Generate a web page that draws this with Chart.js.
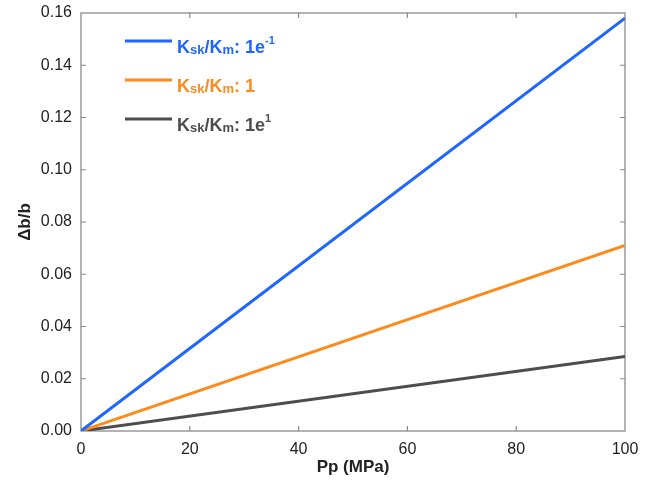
<!DOCTYPE html>
<html>
<head>
<meta charset="utf-8">
<script src="https://cdn.jsdelivr.net/npm/chart.js@4"></script>
<style>
  html, body { margin: 0; padding: 0; background: #fff; }
  #wrap { width: 651px; height: 490px; }
</style>
</head>
<body>
<div id="wrap"><canvas id="chart" width="651" height="490"></canvas></div>
<script>
// Pp (MPa) values
const pressure = [0, 100];
// Δb/b for each Ksk/Km ratio
const ratioLow = [0, 0.158];   // Ksk/Km: 1e-1
const ratioOne = [0, 0.071];   // Ksk/Km: 1
const ratioHigh = [0, 0.0285]; // Ksk/Km: 1e1
// legend ratio text, base and exponent
const ratioBase = ["1e", "1", "1e"];
const ratioExp = ["-1", "", "1"];
const seriesColors = ["#1f66ff", "#ff8a1c", "#4d4d4d"];
const xTicks = [0, 20, 40, 60, 80, 100];
const yTicks = [0, 0.02, 0.04, 0.06, 0.08, 0.1, 0.12, 0.14, 0.16];

function toPoints(ys) {
  return pressure.map((x, i) => ({ x: x, y: ys[i] }));
}

const datasets = [ratioLow, ratioOne, ratioHigh].map((ys, i) => ({
  label: "Ksk/Km: " + ratioBase[i] + ratioExp[i],
  data: toPoints(ys),
  borderColor: seriesColors[i],
  borderWidth: 3,
  pointRadius: 0,
  fill: false,
  tension: 0,
}));

// frame box with inward ticks
const framePlugin = {
  id: "frame",
  beforeDatasetsDraw(chart) {
    const { ctx, chartArea: a, scales } = chart;
    ctx.save();
    ctx.strokeStyle = "#9a9a9a";
    ctx.lineWidth = 1.5;
    ctx.strokeRect(a.left, a.top, a.right - a.left, a.bottom - a.top);
    ctx.lineWidth = 1.2;
    ctx.strokeStyle = "#8a8a8a";
    const len = 5;
    xTicks.slice(1, -1).forEach((v) => {
      const px = scales.x.getPixelForValue(v);
      ctx.beginPath();
      ctx.moveTo(px, a.bottom);
      ctx.lineTo(px, a.bottom - len);
      ctx.moveTo(px, a.top);
      ctx.lineTo(px, a.top + len);
      ctx.stroke();
    });
    yTicks.slice(1, -1).forEach((v) => {
      const py = scales.y.getPixelForValue(v);
      ctx.beginPath();
      ctx.moveTo(a.left, py);
      ctx.lineTo(a.left + len, py);
      ctx.moveTo(a.right, py);
      ctx.lineTo(a.right - len, py);
      ctx.stroke();
    });
    ctx.restore();
  },
};

// legend with subscripts and superscripts
const legendPlugin = {
  id: "subLegend",
  afterDraw(chart) {
    const ctx = chart.ctx;
    const big = "bold 18px 'Liberation Sans', Arial, sans-serif";
    const small = "bold 13px 'Liberation Sans', Arial, sans-serif";
    const sup = "bold 11px 'Liberation Sans', Arial, sans-serif";
    const rows = [41, 80, 119];
    ctx.save();
    rows.forEach((ly, i) => {
      const color = seriesColors[i];
      ctx.strokeStyle = color;
      ctx.lineWidth = 3;
      ctx.beginPath();
      ctx.moveTo(125, ly);
      ctx.lineTo(172, ly);
      ctx.stroke();

      ctx.fillStyle = color;
      ctx.textBaseline = "alphabetic";
      ctx.textAlign = "left";
      const base = ly + 12;
      const parts = [
        ["K", big, 0],
        ["sk", small, 1],
        ["/K", big, 0],
        ["m", small, 1],
        [": " + ratioBase[i], big, 0],
        [ratioExp[i], sup, -9],
      ];
      let x = 177;
      parts.forEach(([t, f, dy]) => {
        if (!t) return;
        ctx.font = f;
        ctx.fillText(t, x, base + dy);
        x += ctx.measureText(t).width;
      });
    });
    ctx.restore();
  },
};

new Chart(document.getElementById("chart").getContext("2d"), {
  type: "line",
  data: { datasets: datasets },
  plugins: [framePlugin, legendPlugin],
  options: {
    responsive: false,
    animation: false,
    layout: { padding: { top: 13, right: 26, left: 15, bottom: 12 } },
    plugins: { legend: { display: false }, tooltip: { enabled: false } },
    scales: {
      x: {
        type: "linear",
        min: 0,
        max: 100,
        afterBuildTicks: (s) => { s.ticks = xTicks.map((v) => ({ value: v })); },
        afterFit: (s) => { s.height = 47; },
        grid: { display: false, drawTicks: false },
        border: { display: false },
        ticks: {
          color: "#222",
          padding: 9,
          maxRotation: 0,
          font: { family: "'Liberation Sans', Arial, sans-serif", size: 16 },
          callback: (v) => String(v),
        },
        title: {
          display: true,
          text: "Pp (MPa)",
          color: "#222",
          padding: { top: 2, bottom: 0 },
          font: { family: "'Liberation Sans', Arial, sans-serif", size: 17, weight: "bold" },
        },
      },
      y: {
        type: "linear",
        min: 0,
        max: 0.16,
        afterBuildTicks: (s) => { s.ticks = yTicks.map((v) => ({ value: v })); },
        afterFit: (s) => { s.width = 66; s.paddingTop = 0; s.paddingBottom = 0; },
        grid: { display: false, drawTicks: false },
        border: { display: false },
        ticks: {
          color: "#222",
          padding: 9,
          font: { family: "'Liberation Sans', Arial, sans-serif", size: 16 },
          callback: (v) => v.toFixed(2),
        },
        title: {
          display: true,
          text: "Δb/b",
          color: "#222",
          padding: { top: 0, bottom: 4 },
          font: { family: "'Liberation Sans', Arial, sans-serif", size: 17, weight: "bold" },
        },
      },
    },
  },
});
</script>
</body>
</html>
